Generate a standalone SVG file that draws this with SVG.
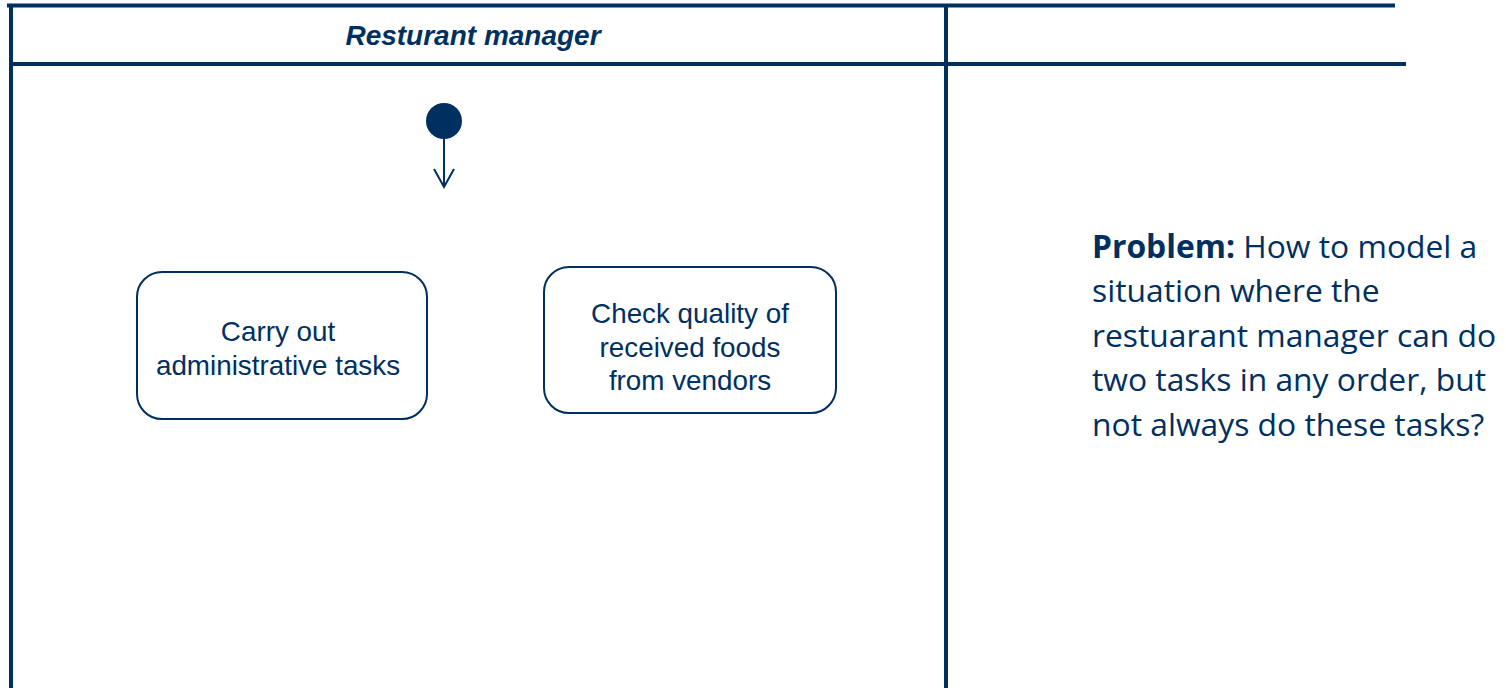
<svg xmlns="http://www.w3.org/2000/svg" width="1506" height="688" viewBox="0 0 1506 688">
<style>
.ln{stroke:#00305f;stroke-width:4;fill:none}
.box{fill:#ffffff;stroke:#00305f;stroke-width:2}
.t{font-family:"Liberation Sans",Arial,sans-serif;font-size:27.8px;fill:#00305f;text-anchor:middle}
.hd{font-family:"Liberation Sans",Arial,sans-serif;font-size:28px;font-weight:bold;font-style:italic;fill:#00305f;text-anchor:middle}
.p{font-family:"Open Sans","Noto Sans",sans-serif;font-size:31.8px;fill:#00305f}
.conn{stroke:#00305f;stroke-width:2;fill:none}
</style>
<defs>
<marker id="open" markerWidth="22" markerHeight="24" refX="19" refY="11" orient="auto" markerUnits="userSpaceOnUse">
<path d="M1,1 L19,11 L1,21" fill="none" stroke="#00305f" stroke-width="2"/>
</marker>
</defs>
<rect width="1506" height="688" fill="#ffffff"/>
<g id="swimlane">
<line class="ln" x1="7" y1="5.5" x2="1395" y2="5.5"/>
<line class="ln" x1="11" y1="64" x2="1406" y2="64"/>
<line class="ln" x1="11" y1="4" x2="11" y2="688"/>
<line class="ln" x1="946" y1="4" x2="946" y2="688"/>
<text class="hd" x="473" y="45">Resturant manager</text>
</g>
<g id="start">
<circle cx="444" cy="121" r="18" fill="#00305f"/>
</g>
<g id="task1">
<rect class="box" x="137" y="272" width="290" height="147" rx="25"/>
<text class="t" x="278" y="341">Carry out</text>
<text class="t" x="278" y="375">administrative tasks</text>
</g>
<g id="task2">
<rect class="box" x="544" y="267" width="292" height="146" rx="25"/>
<text class="t" x="690" y="323">Check quality of</text>
<text class="t" x="690" y="357">received foods</text>
<text class="t" x="690" y="390">from vendors</text>
</g>
<g id="problem">
<text class="p" x="1092" y="258"><tspan font-weight="bold">Problem:</tspan> How to model a</text>
<text class="p" x="1092" y="302">situation where the</text>
<text class="p" x="1092" y="347">restuarant manager can do</text>
<text class="p" x="1092" y="391">two tasks in any order, but</text>
<text class="p" x="1092" y="436">not always do these tasks?</text>
</g>
<g id="connectors">
<line class="conn" x1="444" y1="139" x2="444" y2="187" marker-end="url(#open)"/>
</g>
</svg>
